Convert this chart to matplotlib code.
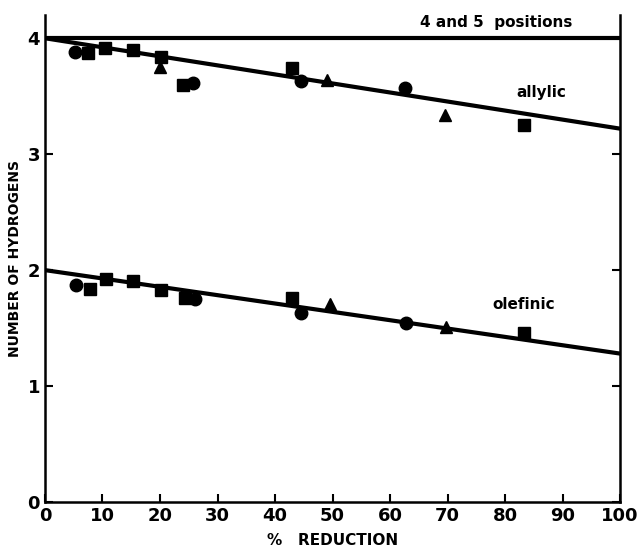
import matplotlib.pyplot as plt

# allylic hydrogens
al_sq_x = [7.5, 10.4, 15.3, 20.1, 24.0, 43.0, 83.2]
al_sq_y = [3.87, 3.92, 3.90, 3.84, 3.60, 3.74, 3.25]
al_ci_x = [5.2, 25.7, 44.5, 62.6]
al_ci_y = [3.88, 3.61, 3.63, 3.57]
al_tr_x = [20.0, 49.0, 69.5]
al_tr_y = [3.75, 3.64, 3.34]

# olefinic hydrogens
ol_sq_x = [7.8, 10.6, 15.3, 20.2, 24.3, 43.0, 83.2]
ol_sq_y = [1.84, 1.92, 1.91, 1.83, 1.76, 1.76, 1.46]
ol_ci_x = [5.4, 26.0, 44.5, 62.7]
ol_ci_y = [1.87, 1.75, 1.63, 1.54]
ol_tr_x = [49.5, 69.8]
ol_tr_y = [1.71, 1.51]

# fitted lines
line_x = [0, 100]
pos45_y = [4.0, 4.0]
allyl_y = [4.0, 3.22]
olef_y = [2.0, 1.28]

fig = plt.figure(figsize=(6.42, 5.49), dpi=100)
ax = fig.add_axes([0.070, 0.0856, 0.896, 0.887])

ax.plot(line_x, pos45_y, color='black', lw=3)
ax.plot(line_x, allyl_y, color='black', lw=3)
ax.plot(line_x, olef_y, color='black', lw=3)

ms = 9
for xs, ys, m in [(al_sq_x, al_sq_y, 's'), (al_ci_x, al_ci_y, 'o'), (al_tr_x, al_tr_y, '^'),
                  (ol_sq_x, ol_sq_y, 's'), (ol_ci_x, ol_ci_y, 'o'), (ol_tr_x, ol_tr_y, '^')]:
    ax.plot(xs, ys, m, color='black', ms=ms, ls='none')

ax.text(78.5, 4.07, '4 and 5  positions', ha='center', va='bottom', fontsize=11, fontweight='bold')
ax.text(86.3, 3.53, 'allylic', ha='center', va='center', fontsize=11, fontweight='bold')
ax.text(83.2, 1.70, 'olefinic', ha='center', va='center', fontsize=11, fontweight='bold')

ax.set_xlim(0, 100)
ax.set_ylim(0, 4.2)
ax.set_xticks(range(0, 101, 10))
ax.set_yticks([0, 1, 2, 3, 4])
ax.spines['top'].set_visible(False)
for s in ['left', 'bottom', 'right']:
    ax.spines[s].set_linewidth(1.8)
ax.tick_params(direction='in', length=6, width=1.5, labelsize=13, right=True, labelright=False)
for lab in ax.get_xticklabels() + ax.get_yticklabels():
    lab.set_fontweight('bold')

ax.set_xlabel('%   REDUCTION', fontsize=11, fontweight='bold', labelpad=6)
ax.set_ylabel('NUMBER OF HYDROGENS', fontsize=10, fontweight='bold', labelpad=4)

fig.savefig('out.png', dpi=100)
